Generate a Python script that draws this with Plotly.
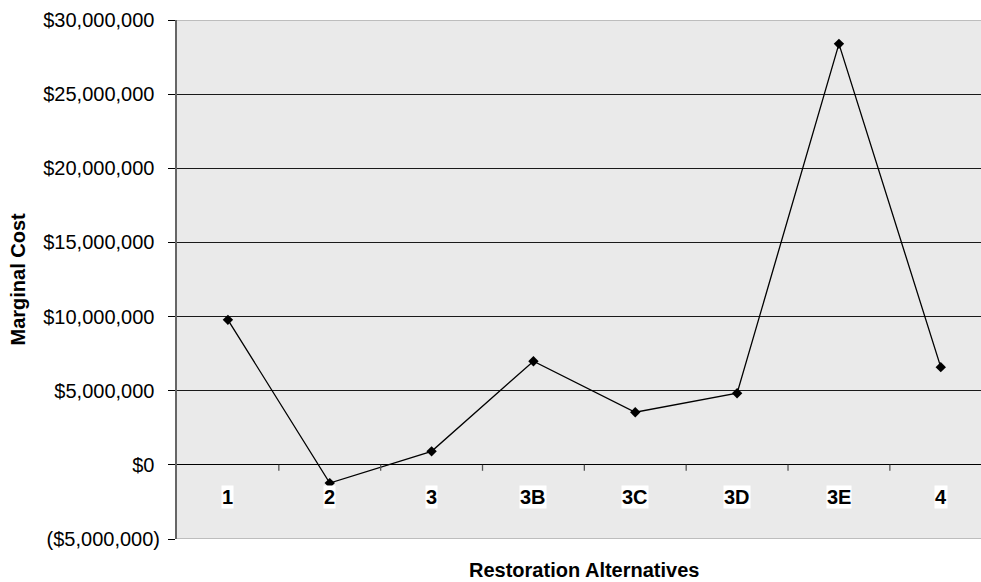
import plotly.graph_objects as go

# Marginal cost per restoration alternative
alternatives = ["1", "2", "3", "3B", "3C", "3D", "3E", "4"]
marginal_cost = [9780000, -1230000, 910000, 6990000, 3550000, 4830000, 28390000, 6590000]

y_tickvals = [-5000000, 0, 5000000, 10000000, 15000000, 20000000, 25000000, 30000000]
y_ticktext = ["($5,000,000)", "$0\u00a0", "$5,000,000\u00a0", "$10,000,000\u00a0",
              "$15,000,000\u00a0", "$20,000,000\u00a0", "$25,000,000\u00a0", "$30,000,000\u00a0"]

FONT = "Arial, Liberation Sans, sans-serif"
FS = 20

x_idx = list(range(len(alternatives)))

fig = go.Figure()
fig.add_trace(go.Scatter(
    x=x_idx, y=marginal_cost, mode="lines+markers",
    line=dict(color="black", width=1.3),
    marker=dict(symbol="diamond", size=8, color="black"),
    showlegend=False, hoverinfo="skip",
))

shapes = []
# frame lines at top and bottom of the plot area
for yv in (30000000, -5000000):
    shapes.append(dict(type="line", xref="paper", yref="y", x0=0, x1=1, y0=yv, y1=yv,
                       line=dict(color="#BDBDBD", width=2), layer="above"))
# category tick marks hanging from the zero line
for k in range(len(alternatives) - 1):
    shapes.append(dict(type="line", xref="x", yref="y", x0=k + 0.5, x1=k + 0.5,
                       y0=0, y1=-400000, line=dict(color="#555555", width=1.3)))

annotations = []
for k, name in enumerate(alternatives):
    annotations.append(dict(x=k, y=-2200000, xref="x", yref="y", text=f"<b>{name}</b>",
                            showarrow=False, bgcolor="white", borderpad=0,
                            font=dict(family=FONT, size=FS, color="black")))
annotations.append(dict(x=3.5, xref="x", y=-31 / 519, yref="paper", yanchor="middle",
                        text="<b>Restoration Alternatives</b>", showarrow=False,
                        font=dict(family=FONT, size=FS, color="black")))
annotations.append(dict(x=-160 / 804, xref="paper", y=0.5, yref="paper", textangle=-90,
                        text="<b>Marginal Cost</b>", showarrow=False,
                        xanchor="center", yanchor="middle",
                        font=dict(family=FONT, size=FS, color="black")))

fig.update_layout(
    width=981, height=582,
    margin=dict(l=177, r=0, t=20, b=43, pad=0),
    paper_bgcolor="white", plot_bgcolor="#EAEAEA",
    font=dict(family=FONT, size=FS, color="black"),
    xaxis=dict(range=[-0.5, 7.395], showticklabels=False, showgrid=False,
               zeroline=False, showline=False, ticks=""),
    yaxis=dict(range=[-5000000, 30000000], tickvals=y_tickvals, ticktext=y_ticktext,
               ticks="outside", ticklen=7, tickcolor="black", tickwidth=1,
               ticklabelstandoff=4,
               showline=True, linecolor="#666666", linewidth=2,
               showgrid=True, gridcolor="#1A1A1A", gridwidth=1,
               zeroline=True, zerolinecolor="black", zerolinewidth=1.3,
               tickfont=dict(family=FONT, size=FS, color="black")),
    shapes=shapes, annotations=annotations,
)

fig.write_html("out.html")
